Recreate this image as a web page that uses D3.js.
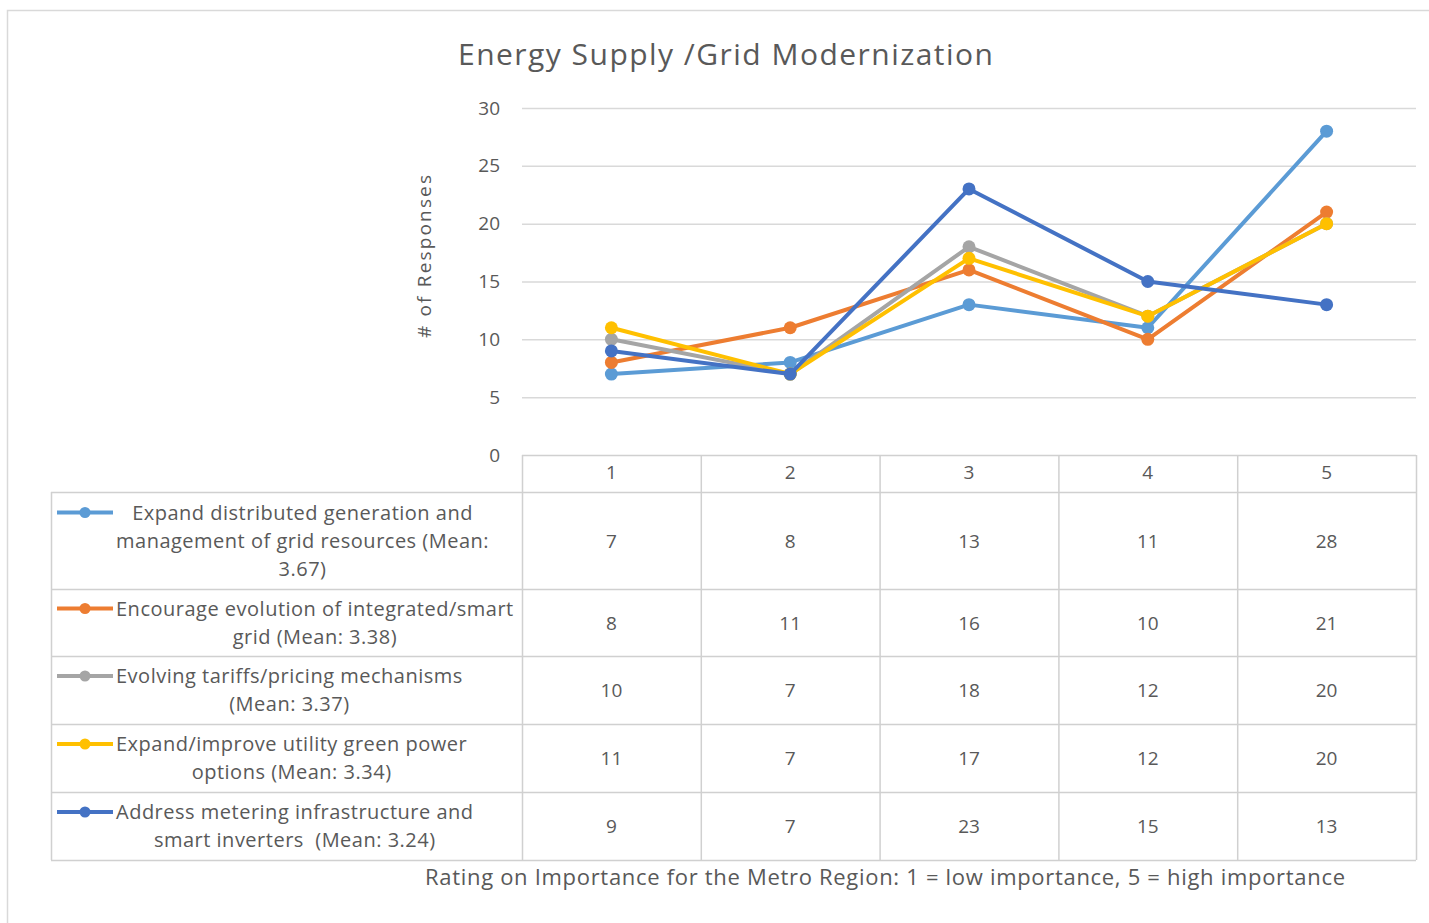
<!DOCTYPE html>
<html>
  <head>
    <meta charset="UTF-8" />
    <title>Energy Supply /Grid Modernization</title>
    <style>
      body { margin: 0; background: #fff; }
      svg { display: block; font-family: "Open Sans", "Noto Sans", sans-serif; }
      .lab { white-space: pre; }
    </style>
  </head>
  <body>
    <svg></svg>
    <script src="https://d3js.org/d3.v7.min.js"></script>
    <script>
      // ratings on the x axis
      const ratings = ["1", "2", "3", "4", "5"];

      // series names as shown in the data table (already split in lines)
      const seriesLabels = [
        ["Expand distributed generation and", "management of grid resources (Mean:", "3.67)"],
        ["Encourage evolution of integrated/smart", "grid (Mean: 3.38)"],
        ["Evolving tariffs/pricing mechanisms", "(Mean: 3.37)"],
        ["Expand/improve utility green power", "options (Mean: 3.34)"],
        ["Address metering infrastructure and", "smart inverters  (Mean: 3.24)"]
      ];

      const expandDistributed = [7, 8, 13, 11, 28];
      const encourageSmartGrid = [8, 11, 16, 10, 21];
      const evolvingTariffs = [10, 7, 18, 12, 20];
      const greenPower = [11, 7, 17, 12, 20];
      const meteringInverters = [9, 7, 23, 15, 13];

      const yTicks = [0, 5, 10, 15, 20, 25, 30];

      const allSeries = [expandDistributed, encourageSmartGrid, evolvingTariffs, greenPower, meteringInverters];
      const colors = ["#5b9bd5", "#ed7d31", "#a5a5a5", "#ffc000", "#4472c4"];

      const width = 1429, height = 923;
      const svg = d3.select("svg").attr("width", width).attr("height", height);

      // outer chart frame
      svg.append("rect")
        .attr("x", 7.5).attr("y", 10.5)
        .attr("width", width).attr("height", height)
        .attr("fill", "none").attr("stroke", "#d9d9d9").attr("stroke-width", 1.5);

      // title
      svg.append("text")
        .attr("x", 458).attr("y", 65)
        .attr("font-size", 30)
        .attr("fill", "#595959")
        .attr("textLength", 535)
        .attr("lengthAdjust", "spacing")
        .text("Energy Supply /Grid Modernization");

      // scales
      const x = d3.scaleBand().domain(ratings).range([522, 1416]);
      const y = d3.scaleLinear().domain([0, 30]).range([455, 108]);

      // gridlines
      svg.append("g")
        .selectAll("line")
        .data(yTicks.filter(d => d > 0))
        .enter()
        .append("line")
        .attr("x1", 522).attr("x2", 1416)
        .attr("y1", d => y(d) + 0.5).attr("y2", d => y(d) + 0.5)
        .attr("stroke", "#d9d9d9").attr("stroke-width", 1.5);

      // y axis labels
      const yAxis = svg.append("g")
        .attr("transform", "translate(522,0)")
        .call(d3.axisLeft(y).tickValues(yTicks).tickSize(0).tickPadding(22));
      yAxis.select(".domain").remove();
      yAxis.selectAll("text")
        .attr("font-size", 19)
        .attr("font-family", "'Open Sans', 'Noto Sans', sans-serif")
        .attr("fill", "#595959");

      // y axis title
      svg.append("text")
        .attr("transform", "translate(431,338) rotate(-90)")
        .attr("font-size", 19)
        .attr("fill", "#595959")
        .attr("textLength", 163)
        .attr("lengthAdjust", "spacing")
        .text("# of Responses");

      // lines
      const line = d3.line()
        .x((d, i) => x(ratings[i]) + x.bandwidth() / 2)
        .y(d => y(d));

      const seriesG = svg.append("g")
        .selectAll("g")
        .data(allSeries)
        .enter()
        .append("g");

      seriesG.append("path")
        .attr("d", d => line(d))
        .attr("fill", "none")
        .attr("stroke", (d, i) => colors[i])
        .attr("stroke-width", 4)
        .attr("stroke-linejoin", "round");

      seriesG.selectAll("circle")
        .data((d, i) => d.map((v, j) => ({ v: v, j: j, c: colors[i] })))
        .enter()
        .append("circle")
        .attr("cx", d => x(ratings[d.j]) + x.bandwidth() / 2)
        .attr("cy", d => y(d.v))
        .attr("r", 6.5)
        .attr("fill", d => d.c);

      // data table
      const rowTops = [492, 589, 656, 724, 792, 860];
      const tableLeft = 51;
      const gridColor = "#d0d0d0";
      const table = svg.append("g");

      // header row (only over the plot columns)
      table.append("line")
        .attr("x1", 522).attr("x2", 1416).attr("y1", 455.5).attr("y2", 455.5)
        .attr("stroke", gridColor).attr("stroke-width", 1.5);
      table.selectAll(".hdr")
        .data(ratings)
        .enter()
        .append("text")
        .attr("x", d => x(d) + x.bandwidth() / 2)
        .attr("y", 479)
        .attr("text-anchor", "middle")
        .attr("font-size", 19)
        .attr("fill", "#595959")
        .text(d => d);

      // horizontal lines
      table.selectAll(".hl")
        .data(rowTops)
        .enter()
        .append("line")
        .attr("x1", tableLeft).attr("x2", 1416)
        .attr("y1", d => d + 0.5).attr("y2", d => d + 0.5)
        .attr("stroke", gridColor).attr("stroke-width", 1.5);

      // vertical lines
      const colEdges = ratings.map(r => x(r)).concat([x.range()[1]]);
      table.selectAll(".vl")
        .data(colEdges)
        .enter()
        .append("line")
        .attr("x1", d => d + 0.5).attr("x2", d => d + 0.5)
        .attr("y1", 455).attr("y2", 860)
        .attr("stroke", gridColor).attr("stroke-width", 1.5);
      table.append("line")
        .attr("x1", tableLeft + 0.5).attr("x2", tableLeft + 0.5)
        .attr("y1", 492).attr("y2", 860)
        .attr("stroke", gridColor).attr("stroke-width", 1.5);

      // legend cells: text block starts after the key, lines centred in the block
      const lineGap = 28;
      const textLeft = 116;
      seriesLabels.forEach((lines, i) => {
        const top = rowTops[i], bottom = rowTops[i + 1];
        const mid = (top + bottom) / 2;
        const firstY = mid - (lines.length - 1) * lineGap / 2;
        const g = table.append("g");

        g.append("line")
          .attr("x1", 57).attr("x2", 113)
          .attr("y1", firstY).attr("y2", firstY)
          .attr("stroke", colors[i]).attr("stroke-width", 4);
        g.append("circle")
          .attr("cx", 85).attr("cy", firstY).attr("r", 5.5)
          .attr("fill", colors[i]);

        const txt = g.selectAll(".lab")
          .data(lines)
          .enter()
          .append("text")
          .attr("class", "lab")
          .attr("y", (d, k) => firstY + k * lineGap + 7)
          .attr("font-size", 20)
          .attr("letter-spacing", 0.5)
          .attr("fill", "#595959")
          .text(d => d);
        const widths = txt.nodes().map(n => n.getComputedTextLength());
        const maxW = d3.max(widths);
        txt.attr("x", (d, k) => textLeft + (maxW - widths[k]) / 2);

        g.selectAll(".val")
          .data(allSeries[i])
          .enter()
          .append("text")
          .attr("class", "val")
          .attr("x", (d, j) => x(ratings[j]) + x.bandwidth() / 2)
          .attr("y", mid + 7)
          .attr("text-anchor", "middle")
          .attr("font-size", 19)
          .attr("fill", "#595959")
          .text(d => d);
      });

      // x axis title
      svg.append("text")
        .attr("x", 425).attr("y", 885)
        .attr("font-size", 22)
        .attr("fill", "#595959")
        .attr("textLength", 920)
        .attr("lengthAdjust", "spacing")
        .text("Rating on Importance for the Metro Region: 1 = low importance, 5 = high importance");
    </script>
  </body>
</html>
